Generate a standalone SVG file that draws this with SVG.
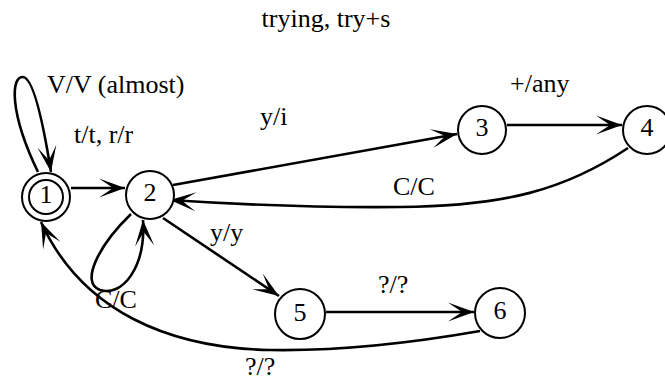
<svg xmlns="http://www.w3.org/2000/svg" width="665" height="382" viewBox="0 0 665 382">
<style>
  text { font-family: "Liberation Serif", "Times New Roman", serif; font-size: 26px; fill: #000; }
  .node circle { fill: #fff; stroke: #000; stroke-width: 2; }
  .node text { text-anchor: middle; }
  .edge { fill: none; stroke: #000; stroke-width: 2.6; marker-end: url(#arr); }
</style>
<defs>
  <marker id="arr" markerUnits="userSpaceOnUse" orient="auto" markerWidth="30" markerHeight="22" refX="0" refY="0" viewBox="-28 -11 30 22" overflow="visible">
    <path d="M0,0 L-26,-9.5 L-12,0 L-26,9.5 Z" fill="#000"/>
  </marker>
</defs>
<rect width="665" height="382" fill="#fff"/>
<text x="326" y="27" text-anchor="middle">trying, try+s</text>
<g id="connectors">
  <path class="edge" d="M38,172 C9,112 11,76 23,77 C34,78 44,128 51,172"/>
  <path class="edge" d="M71,188 L125,188"/>
  <path class="edge" d="M173,185 L457,134"/>
  <path class="edge" d="M507,125 L622,125"/>
  <path class="edge" d="M628,148 C565,190 505,206 400,207 C300,208 230,204 170,200"/>
  <path class="edge" d="M163,218 L279,296"/>
  <path class="edge" d="M131,214 C98,246 80,283 100,290 C122,297 146,268 143,220"/>
  <path class="edge" d="M326,312 L474,312"/>
  <path class="edge" d="M480,331 C400,345 330,351 270,350 C170,348 82,312 41,222"/>
</g>
<g id="edge-labels">
  <text x="47" y="93">V/V (almost)</text>
  <text x="74" y="143">t/t, r/r</text>
  <text x="260" y="125">y/i</text>
  <text x="510" y="92">+/any</text>
  <text x="393" y="195">C/C</text>
  <text x="210" y="241">y/y</text>
  <text x="95" y="308">C/C</text>
  <text x="378" y="293">?/?</text>
  <text x="245" y="375">?/?</text>
</g>
<g id="node1" class="node"><circle cx="46" cy="197" r="24"/><circle cx="46" cy="197" r="17"/><text x="46" y="203">1</text></g>
<g id="node2" class="node"><circle cx="150" cy="195" r="24"/><text x="150" y="201">2</text></g>
<g id="node3" class="node"><circle cx="482" cy="130" r="24"/><text x="482" y="136">3</text></g>
<g id="node4" class="node"><circle cx="647" cy="130" r="24"/><text x="647" y="136">4</text></g>
<g id="node5" class="node"><circle cx="300" cy="314" r="25"/><text x="300" y="321">5</text></g>
<g id="node6" class="node"><circle cx="500" cy="313" r="25"/><text x="500" y="319">6</text></g>
</svg>
